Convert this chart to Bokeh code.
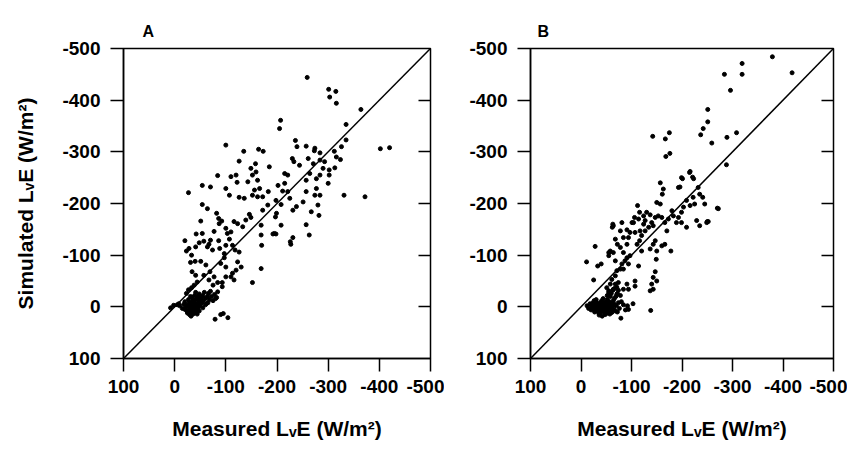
from bokeh.plotting import figure
from bokeh.layouts import row
from bokeh.models import Range1d, FixedTicker, LinearAxis, ColumnDataSource
from bokeh.embed import file_html
from bokeh.resources import INLINE

# ---------------- data ----------------
tick_values = [100, 0, -100, -200, -300, -400, -500]
tick_labels = ["100", "0", "-100", "-200", "-300", "-400", "-500"]
one_to_one = [100, -500]

panel_a_measured = [
    -259, -301, -315, -303, -316, -364, -335, -207, -205, -402, -420, -100, -135, -236, -239, -257,
    -274, -273, -284, -312, -326, -335, -316, -324, -164, -173, -230, -233, -244, -261, -271, -284,
    -293, -290, -302, -313, -302, -300, -284, -277, -264, -257, -277, -257, -274, -284, -280, -267,
    -282, -257, -263, -331, -372, -251, -238, -231, -225, -221, -211, -215, -221, -215, -202, -198,
    -208, -199, -197, -208, -192, -195, -198, -226, -227, -231, -185, -183, -182, -172, -169, -169,
    -170, -169, -152, -158, -149, -159, -152, -162, -166, -156, -152, -162, -172, -143, -126, -120,
    -122, -110, -126, -136, -107, -100, -84, -54, -70, -54, -64, -27, -146, -149, -139, -133,
    -123, -116, -110, -103, -100, -92, -87, -82, -86, -77, -70, -54, -51, -42, -67, -57,
    -48, -64, -74, -86, -88, -97, -100, -107, -113, -118, -126, -123, -130, -120, -113, -110,
    -116, -100, -97, -90, -100, -93, -93, -84, -77, -69, -61, -51, -40, -33, -31, -23,
    -20, -28, -41, -34, -41, -57, -67, -75, -84, -80, -90, -95, -104, -79,
    -10, -15, -18, -20, -22, -24, -25, -26, -28, -28, -30, -30, -31, -32, -33, -33,
    -34, -35, -35, -36, -36, -37, -38, -38, -39, -40, -40, -41, -42, -42, -43, -44,
    -45, -45, -46, -47, -48, -50, -50, -52, -53, -55, -56, -58, -60, -62, -64, -66,
    -68, -70, -72, -75, -78, -82, -27, -29, -32, -34, -37, -39, -41, -44, -36, -31,
    -48, -25, -20, -55, -60, -65, -5, 2, 8, -8, -23, -27, -33, -38, -44,
]
panel_a_simulated = [
    -444, -421, -417, -406, -394, -382, -353, -361, -345, -306, -308, -313, -301, -322, -310, -311,
    -307, -302, -298, -301, -310, -323, -290, -285, -305, -301, -287, -281, -274, -287, -277, -284,
    -281, -268, -265, -269, -255, -239, -255, -248, -258, -245, -229, -223, -216, -216, -197, -184,
    -177, -159, -139, -216, -213, -203, -194, -187, -210, -223, -224, -239, -255, -258, -235, -206,
    -198, -181, -174, -158, -141, -142, -141, -126, -121, -134, -271, -223, -197, -187, -158, -139,
    -119, -74, -47, -277, -268, -261, -255, -245, -229, -226, -216, -213, -213, -242, -282, -255,
    -241, -252, -212, -210, -216, -229, -254, -235, -232, -198, -190, -221, -179, -173, -168, -155,
    -161, -165, -145, -142, -152, -166, -161, -181, -171, -146, -129, -142, -166, -141, -121, -127,
    -124, -116, -110, -128, -113, -103, -119, -131, -119, -110, -106, -87, -77, -71, -65, -58,
    -52, -77, -95, -84, -58, -47, -39, -47, -58, -68, -81, -88, -88, -100, -86, -108,
    -128, -113, -116, -68, -61, -61, -52, -42, -29, -16, 15, 13, 21, 24,
    -2, 3, -5, 5, 0, 8, -3, 10, 2, -8, 6, -2, 12, -5, 3, 9,
    -10, 0, 6, -4, 14, 2, -8, 7, -2, 4, -13, 10, -4, 1, -16, 6,
    -6, -20, 2, -10, -25, -2, -14, -18, -8, -22, -12, -28, -16, -6, -20, -26,
    -14, -30, -20, -12, -24, -18, -14, 15, 18, -18, 12, -22, -28, 14, -12, -20,
    8, 12, -10, 2, -4, -8, -4, -3, 2, -6, -26, -33, -37, -42, -48,
]

panel_b_measured = [
    -379, -418, -319, -319, -284, -296, -251, -251, -242, -237, -259, -289, -308, -288, -142, -175,
    -167, -168, -176, -216, -199, -221, -157, -163, -161, -193, -196, -150, -157, -112, -270, -252,
    -249, -235, -229, -245, -241, -235, -232, -222, -225, -216, -209, -203, -199, -193, -189, -209,
    -199, -183, -180, -173, -170, -166, -160, -153, -147, -140, -134, -127, -120, -116, -111, -127,
    -124, -117, -107, -104, -97, -94, -91, -84, -78, -64, -62, -68, -72, -78, -84, -91,
    -97, -94, -84, -87, -81, -78, -71, -68, -64, -58, -68, -74, -68, -61, -64, -71,
    -55, -51, -58, -91, -84, -94, -107, -114, -120, -137, -143, -147, -150, -160, -166, -178,
    -149, -147, -143, -150, -140, -143, -137, -107, -25, -11, -33, -40, -28, -55, -55, -63,
    -81, -91, -101, -106, -116, -124, -114, -130, -137, -143, -201, -215, -223, -250, -272,
    -12, -15, -18, -20, -22, -24, -25, -27, -28, -30, -30, -32, -33, -34, -35, -36,
    -37, -38, -39, -40, -40, -41, -42, -43, -44, -45, -46, -47, -48, -49, -50, -51,
    -52, -53, -54, -55, -56, -57, -58, -60, -61, -62, -64, -65, -66, -68, -70, -72,
    -74, -76, -36, -42, -48, -30, -26, -44, -38, -52, -20, -58, -60, -63, -67, -71,
    -74, -72, -69, -66, -78, -80, -84, -88, -92, -55, -52, -61, -79, -94, -103, -138,
]
panel_b_simulated = [
    -484, -453, -471, -450, -450, -419, -382, -358, -345, -333, -317, -328, -337, -275, -330, -337,
    -325, -291, -297, -262, -250, -251, -240, -228, -218, -231, -232, -202, -199, -196, -191, -165,
    -163, -157, -167, -199, -212, -218, -231, -212, -199, -196, -206, -193, -183, -173, -163, -154,
    -163, -176, -186, -170, -147, -163, -173, -176, -173, -163, -154, -147, -138, -128, -121, -167,
    -160, -147, -144, -163, -144, -134, -121, -134, -147, -157, -154, -131, -121, -115, -105, -95,
    -99, -83, -73, -89, -83, -73, -70, -89, -105, -108, -60, -47, -44, -53, -34, -24,
    -31, -37, -44, -44, -34, -34, -40, -79, -108, -112, -121, -128, -108, -118, -121, -108,
    -92, -68, -57, -50, -44, -34, -31, -50, -52, -87, -79, -83, -117, -105, -99, -160,
    -163, -149, -163, -173, -183, -176, -170, -183, -178, -157, -248, -260, -248, -165, -190,
    -2, 3, -6, 6, 0, -8, 4, 10, -3, 2, -10, 7, -5, 0, 12, -2,
    5, -8, 2, -4, 8, -12, 0, 4, -6, 10, -2, 3, -9, 6, -4, 1,
    -14, 8, -6, 2, -10, 14, -3, 5, -8, -1, -12, 4, -5, 8, -2, 10,
    -8, 3, 16, 18, 15, -14, -12, -16, 14, 12, -4, -20, -26, -32, -36, -38,
    -32, -26, -20, -16, -22, -10, -4, 6, -2, -28, -22, 11, 22, 5, -6, 7,
]

# ---------------- styling helpers ----------------
FONT = "Liberation Sans"
X_TITLE = "Measured L\u1d65E (W/m\u00b2)"
Y_TITLE = "Simulated L\u1d65E (W/m\u00b2)"


def make_panel(title, xs, ys, frame_w, border_left, border_top, border_bottom,
               show_ylabel, title_offset):
    p = figure(
        frame_width=frame_w, frame_height=310,
        x_range=Range1d(100, -500), y_range=Range1d(100, -500),
        output_backend="svg", toolbar_location=None,
        min_border_left=border_left, min_border_right=14,
        min_border_top=border_top, min_border_bottom=border_bottom,
        x_axis_label=X_TITLE,
        y_axis_label=Y_TITLE if show_ylabel else None,
    )
    p.title.text = title
    p.title.align = "left"
    p.title.offset = title_offset
    p.title.text_font = FONT
    p.title.text_font_size = "16px"
    p.title.text_font_style = "bold"
    p.title.text_color = "black"
    p.title.standoff = 18
    p.grid.visible = False
    p.background_fill_color = "white"
    p.border_fill_color = "white"
    p.outline_line_color = "black"
    p.outline_line_width = 1.5

    overrides = {v: s for v, s in zip(tick_values, tick_labels)}
    for ax in (p.xaxis[0], p.yaxis[0]):
        ax.ticker = FixedTicker(ticks=tick_values)
        ax.major_label_overrides = overrides
        ax.major_label_text_font = FONT
        ax.major_label_text_font_size = "19px"
        ax.major_label_text_font_style = "bold"
        ax.major_label_text_color = "black"
        ax.major_tick_in = 0
        ax.major_tick_out = 13
        ax.major_tick_line_width = 1.5
        ax.minor_tick_line_color = None
        ax.axis_line_width = 1.5
        ax.axis_label_text_font = FONT
        ax.axis_label_text_font_size = "21px"
        ax.axis_label_text_font_style = "bold"
        ax.axis_label_text_color = "black"
    p.yaxis[0].major_label_standoff = 10
    p.xaxis[0].major_label_standoff = 8
    p.yaxis[0].axis_label_standoff = 22
    p.xaxis[0].axis_label_standoff = 21

    right = LinearAxis(ticker=FixedTicker(ticks=tick_values[1:-1]))
    right.major_label_overrides = {v: "" for v in tick_values}
    right.major_tick_in = 12
    right.major_tick_out = 0
    right.major_tick_line_width = 1.5
    right.minor_tick_line_color = None
    right.axis_line_color = None
    right.major_label_standoff = 0
    p.add_layout(right, "right")

    p.line(one_to_one, one_to_one, line_color="black", line_width=1.5)
    src = ColumnDataSource(dict(x=xs, y=ys))
    p.scatter("x", "y", source=src, size=4, fill_color="black", line_color="black")
    return p


pa = make_panel("A", panel_a_measured, panel_a_simulated, 307, 123, 47, 89, True, 19)
pb = make_panel("B", panel_b_measured, panel_b_simulated, 303, 86, 48, 88, False, 7)

layout = row(pa, pb)
open("out.html", "w").write(file_html(layout, INLINE))
